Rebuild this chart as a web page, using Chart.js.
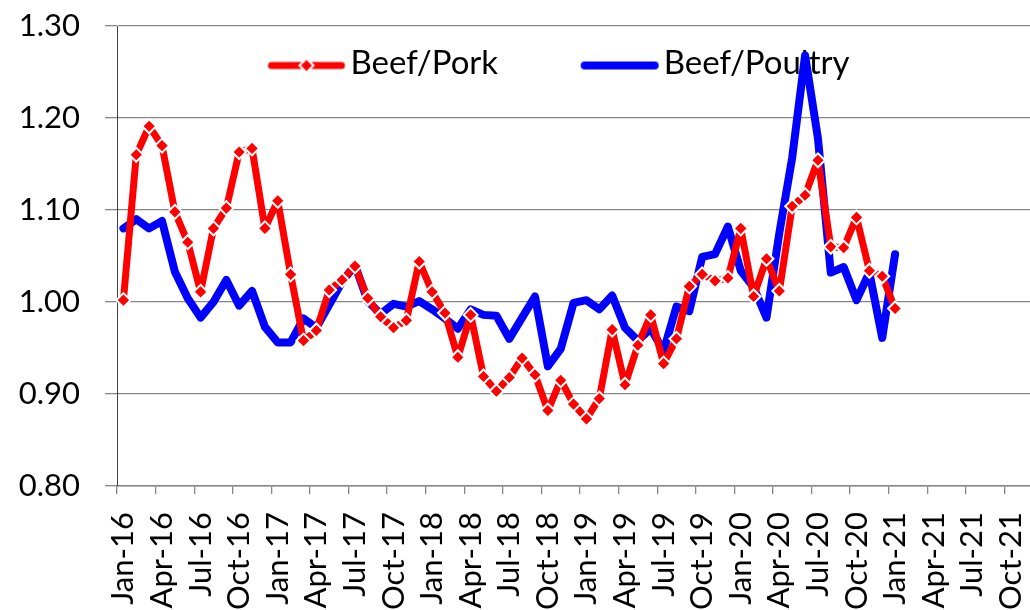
<!DOCTYPE html>
<html>
<head>
<meta charset="utf-8">
<style>
  html, body { margin: 0; padding: 0; overflow: hidden; background: #ffffff; }
  canvas { display: block; }
</style>
<script src="https://cdn.jsdelivr.net/npm/chart.js@4/dist/chart.umd.min.js"></script>
</head>
<body>
<canvas id="c" width="1043" height="610"></canvas>
<script>
// ---- categories (monthly, Jan-16 .. Dec-21) ----
const monthNames = ['Jan','Feb','Mar','Apr','May','Jun','Jul','Aug','Sep','Oct','Nov','Dec'];
const yearNames = ['16','17','18','19','20','21'];
const categories = yearNames.flatMap(y => monthNames.map(m => m + '-' + y));
const labelEvery = 3; // show Jan, Apr, Jul, Oct

// ---- series values (Jan-16 .. Jan-21) ----
const beefPork = [
  1.002, 1.160, 1.191, 1.170, 1.098, 1.065, 1.011, 1.080, 1.102, 1.163, 1.167, 1.080,
  1.110, 1.030, 0.958, 0.969, 1.013, 1.024, 1.039, 1.004, 0.984, 0.972, 0.980, 1.044,
  1.011, 0.988, 0.940, 0.986, 0.919, 0.903, 0.918, 0.939, 0.921, 0.882, 0.915, 0.889,
  0.873, 0.895, 0.970, 0.910, 0.953, 0.986, 0.933, 0.960, 1.017, 1.030, 1.023, 1.026,
  1.080, 1.006, 1.047, 1.012, 1.104, 1.116, 1.154, 1.060, 1.059, 1.092, 1.034, 1.028,
  0.993
];
const beefPoultry = [
  1.080, 1.090, 1.080, 1.088, 1.033, 1.004, 0.983, 1.000, 1.024, 0.996, 1.012, 0.973,
  0.956, 0.956, 0.982, 0.972, 0.997, 1.022, 1.040, 1.001, 0.987, 0.998, 0.995, 1.001,
  0.992, 0.982, 0.971, 0.992, 0.986, 0.985, 0.960, 0.983, 1.006, 0.930, 0.949, 0.999,
  1.002, 0.992, 1.007, 0.972, 0.958, 0.971, 0.947, 0.995, 0.990, 1.049, 1.052, 1.082,
  1.034, 1.016, 0.983, 1.075, 1.157, 1.268, 1.178, 1.032, 1.038, 1.002, 1.032, 0.961,
  1.052
];
const seriesNames = ['Beef/Pork', 'Beef/Poultry'];

// ---- y axis ----
const yMin = 0.80, yMax = 1.30, yStep = 0.10;

// ---- styles ----
const RED = '#FF0000', BLUE = '#0000FF', GRID = '#868686';
const FONT = 'Lato';

function legendIcon(color, lw, diamond) {
  const c = document.createElement('canvas');
  c.width = 160; c.height = 26;
  const g = c.getContext('2d');
  g.strokeStyle = color; g.lineWidth = lw; g.lineCap = 'round';
  g.beginPath(); g.moveTo(82, 15); g.lineTo(152, 15); g.stroke();
  if (diamond) {
    const cx = 117, cy = 15, r = 7;
    g.beginPath();
    g.moveTo(cx - r, cy); g.lineTo(cx, cy - r); g.lineTo(cx + r, cy); g.lineTo(cx, cy + r);
    g.closePath();
    g.fillStyle = color; g.fill();
    g.strokeStyle = '#FFFFFF'; g.lineWidth = 2; g.stroke();
  }
  return c;
}
const legendIcons = [legendIcon(RED, 7, true), legendIcon(BLUE, 8, false)];

const legendPlace = {
  id: 'legendPlace',
  afterLayout(chart) {
    const lg = chart.legend;
    if (!lg) return;
    lg.left = 185;
    lg.right = 1043;
    lg.top = 27;
    lg.bottom = 117;
    lg.width = lg.right - lg.left;
    lg.height = lg.bottom - lg.top;
  }
};

new Chart(document.getElementById('c'), {
  type: 'line',
  data: {
    labels: categories,
    datasets: [
      {
        label: seriesNames[0],
        data: beefPork,
        borderColor: RED,
        backgroundColor: RED,
        borderWidth: 7,
        borderJoinStyle: 'round',
        borderCapStyle: 'round',
        tension: 0,
        pointStyle: 'rectRot',
        pointRadius: 7,
        pointHoverRadius: 7,
        pointBackgroundColor: RED,
        pointBorderColor: '#FFFFFF',
        pointBorderWidth: 2
      },
      {
        label: seriesNames[1],
        data: beefPoultry,
        borderColor: BLUE,
        backgroundColor: BLUE,
        borderWidth: 8,
        borderJoinStyle: 'round',
        borderCapStyle: 'round',
        tension: 0,
        pointRadius: 0,
        pointHoverRadius: 0
      }
    ]
  },
  options: {
    responsive: false,
    animation: false,
    devicePixelRatio: 1,
    events: [],
    layout: { autoPadding: false, padding: { top: 25, left: 0, right: 0, bottom: 0 } },
    scales: {
      x: {
        type: 'category',
        offset: true,
        grid: {
          display: true,
          drawOnChartArea: false,
          drawTicks: true,
          tickLength: 8,
          offset: true,
          lineWidth: 1.3,
          color: (ctx) => (ctx.index !== undefined && ctx.index % labelEvery === 0) ? GRID : 'rgba(0,0,0,0)'
        },
        border: { display: true, color: GRID, width: 1.5 },
        ticks: {
          autoSkip: false,
          maxRotation: 90,
          minRotation: 90,
          padding: 18,
          color: '#000000',
          font: { family: FONT, size: 31 },
          callback: (v, i) => (i % labelEvery === 0) ? categories[i] : ''
        },
        afterFit: (s) => { s.height = 124; s.paddingLeft = 0; s.paddingRight = 0; }
      },
      y: {
        min: yMin,
        max: yMax,
        grid: { color: GRID, lineWidth: 1.3, drawTicks: true, tickLength: 12 },
        border: { display: true, color: '#404040', width: 1 },
        ticks: {
          stepSize: yStep,
          padding: 25,
          color: '#000000',
          font: { family: FONT, size: 31 },
          callback: (v) => Number(v).toFixed(2)
        },
        afterFit: (s) => { s.width = 117; s.paddingTop = 0; s.paddingBottom = 0; }
      }
    },
    plugins: {
      tooltip: { enabled: false },
      legend: {
        display: true,
        position: 'top',
        align: 'start',
        maxHeight: 1,
        labels: {
          usePointStyle: true,
          pointStyleWidth: 129,
          padding: 20,
          color: '#000000',
          font: { family: FONT, size: 33 },
          generateLabels: (chart) => {
            const items = Chart.defaults.plugins.legend.labels.generateLabels(chart);
            items.forEach((it, i) => { it.pointStyle = legendIcons[i]; });
            return items;
          }
        }
      }
    }
  },
  plugins: [legendPlace]
});
</script>
</body>
</html>
